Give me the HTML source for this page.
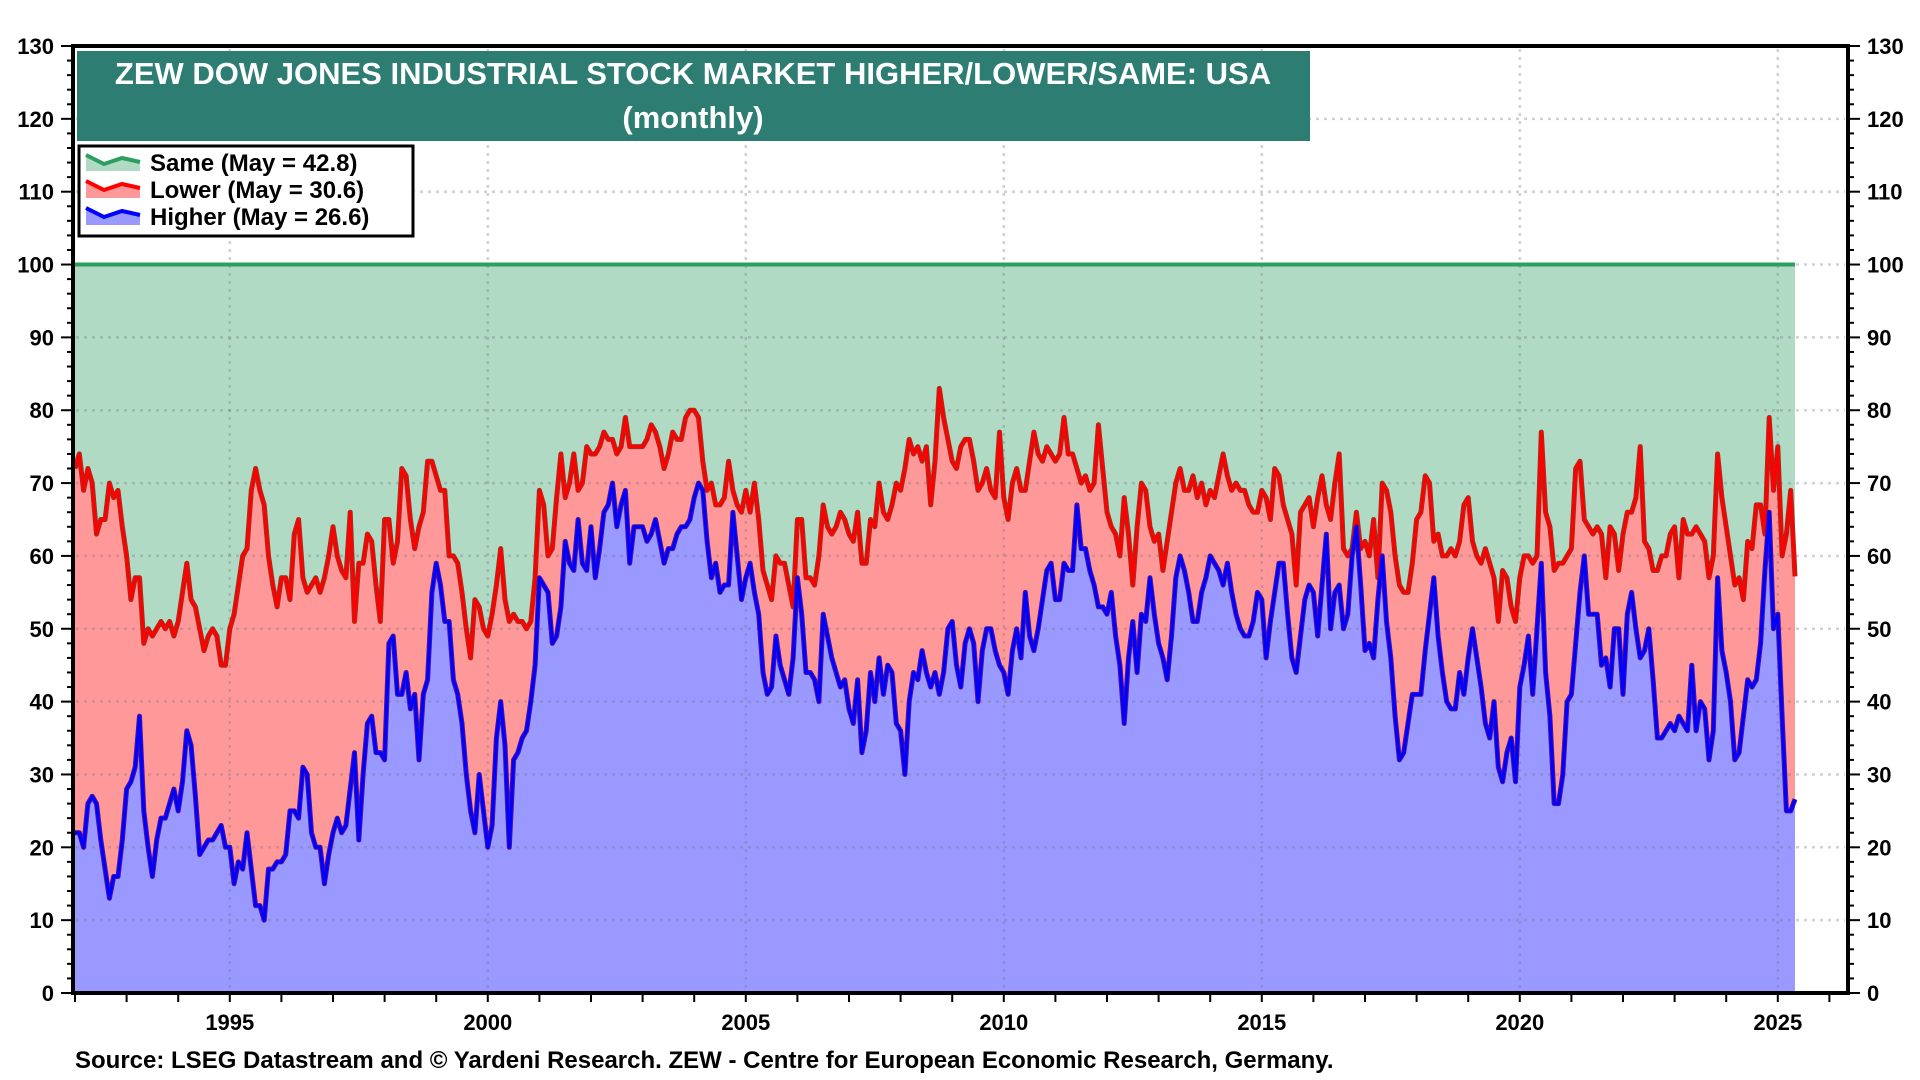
<!DOCTYPE html>
<html><head><meta charset="utf-8">
<style>
html,body{margin:0;padding:0;background:#fff;}
svg{display:block;font-family:"Liberation Sans",Arial,sans-serif;font-weight:bold;}
</style></head>
<body>
<svg id="chart" width="1920" height="1080" viewBox="0 0 1920 1080" xmlns="http://www.w3.org/2000/svg">
<g id="fills"></g>
<g id="grid"></g>
<g id="lines"></g>
<g id="axes"></g>
<rect x="77" y="51" width="1233" height="90" fill="#2e7d72"/>
<text x="693" y="84" fill="#fff" font-size="31" text-anchor="middle">ZEW DOW JONES INDUSTRIAL STOCK MARKET HIGHER/LOWER/SAME: USA</text>
<text x="693" y="128" fill="#fff" font-size="31" text-anchor="middle">(monthly)</text>
<g>
<rect x="79" y="146" width="334" height="90" fill="#fff" stroke="#000" stroke-width="3"/>
<g>
<polygon points="86,155 104,164 122,158 140,162 140,171 86,171" fill="#b0dac4"/>
<polyline points="86,155 104,164 122,158 140,162" fill="none" stroke="#2e9e5e" stroke-width="4"/>
<text x="150" y="171" font-size="24">Same (May = 42.8)</text></g>
<g>
<polygon points="86,181 104,190 122,184 140,188 140,198 86,198" fill="#ff9999"/>
<polyline points="86,181 104,190 122,184 140,188" fill="none" stroke="#ff0000" stroke-width="4"/>
<text x="150" y="198" font-size="24">Lower (May = 30.6)</text></g>
<g>
<polygon points="86,208 104,217 122,211 140,215 140,225 86,225" fill="#9999ff"/>
<polyline points="86,208 104,217 122,211 140,215" fill="none" stroke="#0000ff" stroke-width="4"/>
<text x="150" y="225" font-size="24">Higher (May = 26.6)</text></g>
</g>
<text x="75" y="1068" font-size="24">Source: LSEG Datastream and © Yardeni Research. ZEW - Centre for European Economic Research, Germany.</text>
</svg>
<script>
const startYear = 1992;
const higher = [
22,22,20,26,27,26,21,17,13,16,16,21,
28,29,31,38,25,20,16,21,24,24,26,28,
25,29,36,34,27,19,20,21,21,22,23,20,
20,15,18,17,22,17,12,12,10,17,17,18,
18,19,25,25,24,31,30,22,20,20,15,19,
22,24,22,23,28,33,21,30,37,38,33,33,
32,48,49,41,41,44,39,41,32,41,43,55,
59,56,51,51,43,41,37,30,25,22,30,25,
20,23,35,40,34,20,32,33,35,36,40,45,
57,56,55,48,49,53,62,59,58,65,59,58,
64,57,61,66,67,70,64,67,69,59,64,64,
64,62,63,65,62,59,61,61,63,64,64,65,
68,70,69,62,57,59,55,56,56,66,60,54,
57,59,55,52,44,41,42,49,45,43,41,46,
57,52,44,44,43,40,52,49,46,44,42,43,
39,37,43,33,36,44,40,46,41,45,44,37,
36,30,40,44,43,47,44,42,44,41,44,50,
51,45,42,48,50,48,40,47,50,50,47,45,
44,41,47,50,46,55,49,47,50,54,58,59,
54,54,59,58,58,67,61,61,58,56,53,53,
52,55,49,45,37,46,51,44,52,51,57,52,
48,46,43,49,57,60,58,55,51,51,55,57,
60,59,58,56,59,55,52,50,49,49,51,55,
54,46,51,55,59,59,52,46,44,49,54,56,
55,49,56,63,50,55,56,50,52,60,64,56,
47,48,46,54,60,51,46,38,32,33,37,41,
41,41,47,52,57,49,44,40,39,39,44,41,
46,50,46,42,37,35,40,31,29,33,35,29,
42,45,49,41,50,59,44,38,26,26,30,40,
41,48,55,60,52,52,52,45,46,42,50,50,
41,52,55,50,46,47,50,43,35,35,36,37,
36,38,37,36,45,36,40,39,32,36,57,47,
44,40,32,33,38,43,42,43,48,58,66,50,
52,38,25,25,26.6];
const lower = [
50,52,49,46,43,37,44,48,57,52,53,43,
32,25,26,19,23,30,33,29,27,26,25,21,
26,26,23,20,26,31,27,28,29,27,22,25,
30,37,38,43,39,52,60,57,57,43,39,35,
39,38,29,38,41,26,25,34,37,35,42,41,
42,36,36,34,38,18,38,29,26,24,23,18,
33,17,10,21,31,27,26,20,32,25,30,18,
12,13,18,9,17,18,18,20,21,32,23,25,
29,29,21,21,20,31,20,18,16,14,11,12,
12,11,5,13,19,21,6,11,16,4,11,17,
10,17,14,11,9,6,10,8,10,16,11,11,
11,14,15,12,13,13,13,16,13,12,15,15,
12,9,4,7,13,8,12,12,17,3,7,12,
12,7,15,13,14,15,12,11,14,16,15,7,
8,13,13,13,13,20,15,15,17,20,24,22,
24,25,23,26,23,21,24,24,25,20,23,33,
33,42,36,30,32,26,31,25,29,42,35,26,
22,27,33,28,26,25,29,23,22,19,21,32,
24,24,23,22,23,14,24,30,24,19,17,15,
19,20,20,16,16,5,9,10,11,14,25,19,
14,9,14,15,31,17,5,20,18,18,7,10,
15,12,19,17,13,12,11,14,20,17,15,10,
9,9,13,18,12,14,18,19,20,18,15,11,
15,22,14,17,12,8,13,17,12,17,13,12,
9,19,15,4,15,15,18,11,8,1,2,5,
15,12,19,3,10,18,20,22,24,22,18,18,
24,25,24,18,5,14,16,20,22,21,18,26,
22,12,14,17,24,24,17,20,29,24,18,22,
15,15,11,18,10,18,22,26,32,33,29,20,
20,24,18,5,12,11,12,18,11,22,13,8,
22,14,11,18,29,15,11,15,23,25,24,26,
28,19,28,27,18,28,23,23,25,24,17,21,
20,20,24,24,16,19,19,24,19,5,13,19,
23,22,38,44,30.6];
const yTicks = [0,10,20,30,40,50,60,70,80,90,100,110,120,130];
const xTickLabels = [1995,2000,2005,2010,2015,2020,2025];

const NS = "http://www.w3.org/2000/svg";
const L = 73, R = 1848, T = 46, B = 993;
const x0 = 75, pxPerYear = 51.6;
function xScale(t){ return x0 + (t - startYear) * pxPerYear; }
function xIdx(i){ return xScale(startYear + i / 12); }
function yScale(v){ return B - v * (B - T) / 130; }
function mk(tag, attrs, parent){ const e = document.createElementNS(NS, tag); for (const k in attrs) e.setAttribute(k, attrs[k]); parent.appendChild(e); return e; }

const n = higher.length;
const fills = document.getElementById('fills');
const topLine = higher.map((h, i) => h + lower[i]);
let p = `M${xIdx(0)},${yScale(100)} L${xIdx(n-1)},${yScale(100)} L${xIdx(n-1)},${yScale(0)} L${xIdx(0)},${yScale(0)} Z`;
const sameArea = mk('path', {d: p, fill: '#b0dac4'}, fills);


let pl = `M${xIdx(0)},${yScale(0)}`;
topLine.forEach((v, i) => { pl += ` L${xIdx(i).toFixed(2)},${yScale(v).toFixed(2)}`; });
pl += ` L${xIdx(n-1)},${yScale(0)} Z`;
const lowerArea = mk('path', {d: pl, fill: '#ff9999'}, fills);


let ph = `M${xIdx(0)},${yScale(0)}`;
higher.forEach((v, i) => { ph += ` L${xIdx(i).toFixed(2)},${yScale(v).toFixed(2)}`; });
ph += ` L${xIdx(n-1)},${yScale(0)} Z`;
const higherArea = mk('path', {d: ph, fill: '#9999ff'}, fills);



const grid = document.getElementById('grid');
yTicks.forEach(v => {
  if (v === 0 || v === 130) return;
  const g = mk('line', {x1: L+3, x2: R-3, y1: yScale(v), y2: yScale(v), stroke: 'rgba(120,120,140,0.35)', 'stroke-width': 2.5, 'stroke-dasharray': '3,5'}, grid);
  
  
});
xTickLabels.forEach(yr => {
  const g = mk('line', {x1: xScale(yr), x2: xScale(yr), y1: T+3, y2: B-3, stroke: 'rgba(120,120,140,0.35)', 'stroke-width': 2.5, 'stroke-dasharray': '3,5'}, grid);
  
  
});

const lines = document.getElementById('lines');
const sameLine = mk('line', {x1: xIdx(0), x2: xIdx(n-1), y1: yScale(100), y2: yScale(100), stroke: '#2e9e5e', 'stroke-width': 4}, lines);


const lowerPts = topLine.map((v, i) => xIdx(i).toFixed(2) + ',' + yScale(v).toFixed(2)).join(' ');
mk('polyline', {points: lowerPts, fill: 'none', stroke: '#a03020', 'stroke-width': 5, 'stroke-linejoin': 'round'}, lines);
const lowerLine = mk('polyline', {points: lowerPts, fill: 'none', stroke: '#ff0000', 'stroke-width': 3, 'stroke-linejoin': 'round'}, lines);


const higherPts = higher.map((v, i) => xIdx(i).toFixed(2) + ',' + yScale(v).toFixed(2)).join(' ');
mk('polyline', {points: higherPts, fill: 'none', stroke: '#5010a0', 'stroke-width': 5, 'stroke-linejoin': 'round'}, lines);
const higherLine = mk('polyline', {points: higherPts, fill: 'none', stroke: '#0000ff', 'stroke-width': 3, 'stroke-linejoin': 'round'}, lines);



const axes = document.getElementById('axes');
const frame = mk('rect', {x: L, y: T, width: R - L, height: B - T, fill: 'none', stroke: '#000', 'stroke-width': 4}, axes);


for (let v = 0; v <= 130; v += 2) {
  const major = v % 10 === 0;
  mk('line', {x1: L - (major ? 12 : 6), x2: L, y1: yScale(v), y2: yScale(v), stroke: '#000', 'stroke-width': 2}, axes);
  mk('line', {x1: R, x2: R + (major ? 12 : 6), y1: yScale(v), y2: yScale(v), stroke: '#000', 'stroke-width': 2}, axes);
}
yTicks.forEach(v => {
  const tl = mk('text', {x: 54, y: yScale(v) + 8, 'font-size': 22, 'text-anchor': 'end'}, axes);
  tl.textContent = v;
  
  
  const tr = mk('text', {x: 1867, y: yScale(v) + 8, 'font-size': 22, 'text-anchor': 'start'}, axes);
  tr.textContent = v;
  
  
});
for (let yr = 1992; yr <= 2026; yr++) {
  mk('line', {x1: xScale(yr), x2: xScale(yr), y1: B, y2: B + 9, stroke: '#000', 'stroke-width': 2}, axes);
}
xTickLabels.forEach(yr => {
  const t = mk('text', {x: xScale(yr), y: 1030, 'font-size': 22, 'text-anchor': 'middle'}, axes);
  t.textContent = yr;
  
  
});
</script>
</body></html>
